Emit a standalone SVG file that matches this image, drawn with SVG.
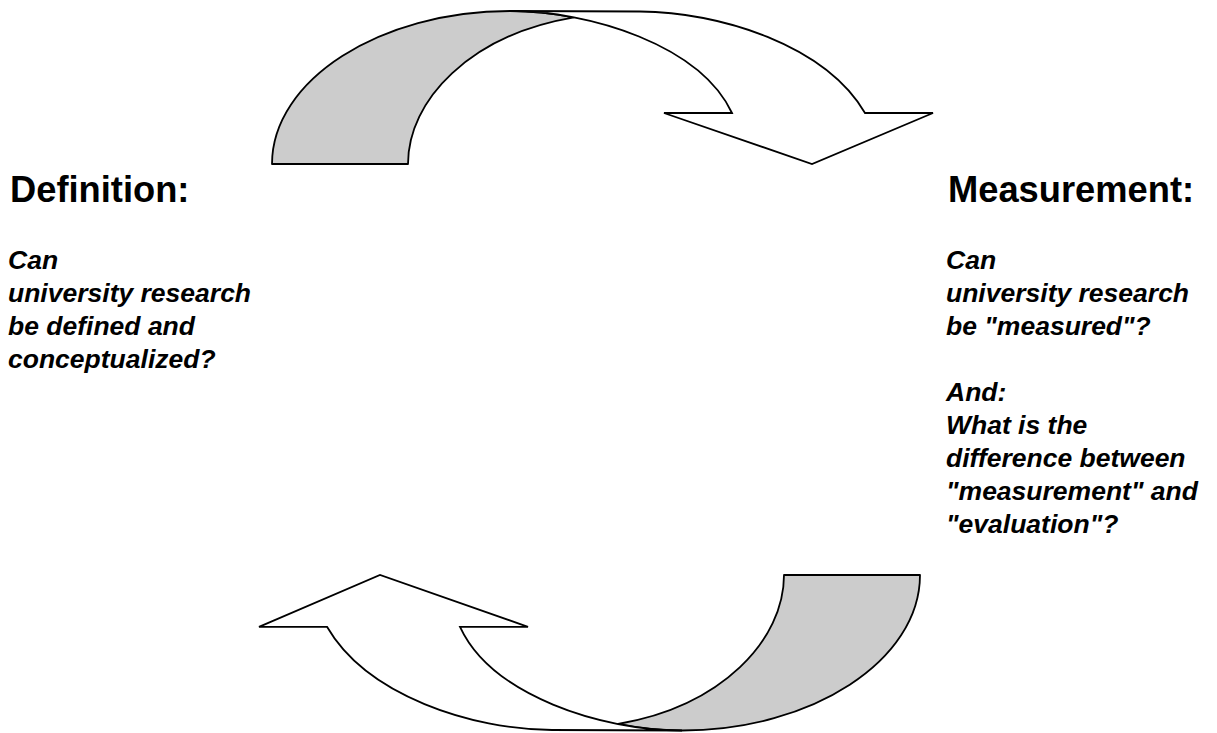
<svg xmlns="http://www.w3.org/2000/svg" width="1217" height="733" viewBox="0 0 1217 733">
  <style>
    .back { fill: #cccccc; stroke: #000; stroke-width: 1.8; stroke-linejoin: round; }
    .front { fill: #ffffff; stroke: #000; stroke-width: 1.8; stroke-linejoin: miter; }
    .title { font-family: "Liberation Sans", Arial, sans-serif; font-weight: bold; font-size: 36.3px; fill: #000; }
    .body { font-family: "Liberation Sans", Arial, sans-serif; font-weight: bold; font-style: italic; font-size: 26.5px; fill: #000; }
  </style>
  <rect width="1217" height="733" fill="#ffffff"/>

  <g id="connectors">
    <!-- curved arrow at the top: Definition to Measurement -->
    <g id="arrow-top">
      <path class="back" d="M272,164 C272,80 380,11 510,11 C530,11 551.9,13.1 573.9,17.35 C470,35 408,100 408,164 Z"/>
      <path class="front" d="M510,11 L640,11.5 C720,12 825,45 865,113 L933,113 L812,164 L664,113 L732,113 C700,45 590,11 510,11 Z"/>
    </g>
    <!-- curved arrow at the bottom: Measurement back to Definition -->
    <g id="arrow-bottom">
      <path class="back" d="M920,575 C920,660.4 812,730.5 682,730.5 C662,730.5 640.1,728.4 618.1,724 C722,706.1 784,640 784,575 Z"/>
      <path class="front" d="M682,730.5 L552,730 C472,729.5 367,695.9 327,626.8 L259,626.8 L380,575 L528,626.8 L460,626.8 C492,695.9 602,730.5 682,730.5 Z"/>
    </g>
  </g>

  <g id="definition">
    <text class="title" x="10" y="202">Definition:</text>
    <text class="body">
      <tspan x="8" y="269">Can</tspan>
      <tspan x="8" y="302">university research</tspan>
      <tspan x="8" y="335">be defined and</tspan>
      <tspan x="8" y="368">conceptualized?</tspan>
    </text>
  </g>

  <g id="measurement">
    <text class="title" x="948" y="202">Measurement:</text>
    <text class="body">
      <tspan x="946" y="269">Can</tspan>
      <tspan x="946" y="302">university research</tspan>
      <tspan x="946" y="335">be "measured"?</tspan>
      <tspan x="946" y="401">And:</tspan>
      <tspan x="946" y="434">What is the</tspan>
      <tspan x="946" y="467">difference between</tspan>
      <tspan x="946" y="500">"measurement" and</tspan>
      <tspan x="946" y="533">"evaluation"?</tspan>
    </text>
  </g>
</svg>
